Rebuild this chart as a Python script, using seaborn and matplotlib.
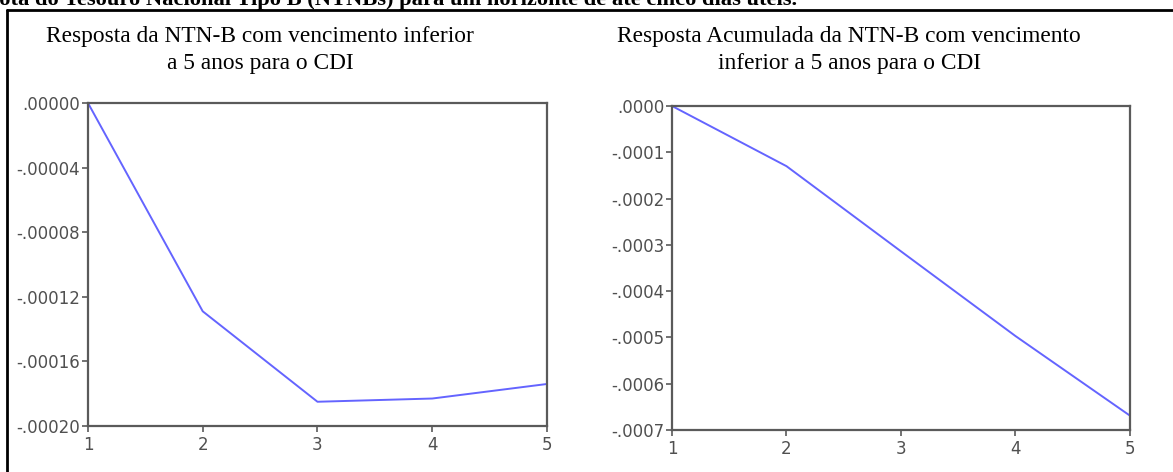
import matplotlib
matplotlib.use("Agg")
import matplotlib.pyplot as plt
import matplotlib.ticker as mticker
from matplotlib.lines import Line2D
import seaborn as sns
import pandas as pd

# ---- data ----
periods = [1, 2, 3, 4, 5]
response = [0.0, -0.000129, -0.000185, -0.000183, -0.000174]
accumulated = [0.0, -0.000130, -0.000314, -0.000497, -0.000669]

left_title = "Resposta da NTN-B com vencimento inferior\na 5 anos para o CDI"
right_title = "Resposta Acumulada da NTN-B com vencimento\ninferior a 5 anos para o CDI"
header = "Nota do Tesouro Nacional Tipo B (NTNBs) para um horizonte de até cinco dias úteis."

left_yticks = [0.0, -0.00004, -0.00008, -0.00012, -0.00016, -0.00020]
right_yticks = [0.0, -0.0001, -0.0002, -0.0003, -0.0004, -0.0005, -0.0006, -0.0007]

sns.set_theme(style="white")
plt.rcParams['font.family'] = ['DejaVu Sans']

fig = plt.figure(figsize=(11.73, 4.72), dpi=100)
fig.patch.set_facecolor("white")

ax1 = fig.add_axes([0.0750, 0.0975, 0.3913, 0.6843])
ax2 = fig.add_axes([0.5729, 0.0890, 0.3904, 0.6864])

line_color = "#6464ff"
spine_color = "#5a5a5a"
tick_color = "#5a5a5a"

def fmt_factory(decimals):
    def f(v, pos):
        s = f"{abs(v):.{decimals}f}"
        if s.startswith("0"):
            s = s[1:]
        if v < -1e-12:
            s = "-" + s
        return s
    return f

df1 = pd.DataFrame({"period": periods, "value": response})
df2 = pd.DataFrame({"period": periods, "value": accumulated})

for ax, df, yt, dec in [(ax1, df1, left_yticks, 5), (ax2, df2, right_yticks, 4)]:
    sns.lineplot(data=df, x="period", y="value", ax=ax, color=line_color, linewidth=1.4)
    ax.set_xlim(1, 5)
    ax.set_ylim(min(yt), max(yt))
    ax.set_xticks(periods)
    ax.set_yticks(yt)
    ax.yaxis.set_major_formatter(mticker.FuncFormatter(fmt_factory(dec)))
    ax.set_xlabel("")
    ax.set_ylabel("")
    for sp in ax.spines.values():
        sp.set_visible(True)
        sp.set_color(spine_color)
        sp.set_linewidth(1.6)
    ax.tick_params(axis="both", which="major", direction="out", length=4, width=1.2,
                   color=tick_color, labelcolor="#505050", labelsize=12, pad=1.5,
                   left=True, bottom=True)
    ax.tick_params(axis="x", pad=3)
    ax.grid(False)

fig.text(0.222, 1 - 50/472, left_title, ha="center", va="center", family="Liberation Serif",
         fontsize=16.8, color="black", linespacing=1.42)
fig.text(0.7238, 1 - 50/472, right_title, ha="center", va="center", family="Liberation Serif",
         fontsize=16.8, color="black", linespacing=1.42)

fig.text(797/1173, 1 - 5/472, header, ha="right", va="baseline", family="Liberation Serif",
         fontweight="bold", fontsize=16.2, color="black")

# outer box lines (top and left)
fig.add_artist(Line2D([7/1173, 1.0], [1 - 9.5/472, 1 - 9.5/472], transform=fig.transFigure,
                      color="black", linewidth=2.0))
fig.add_artist(Line2D([7/1173, 7/1173], [0.0, 1 - 9.5/472], transform=fig.transFigure,
                      color="black", linewidth=2.0))

fig.savefig("out.png", dpi=100, facecolor="white")
